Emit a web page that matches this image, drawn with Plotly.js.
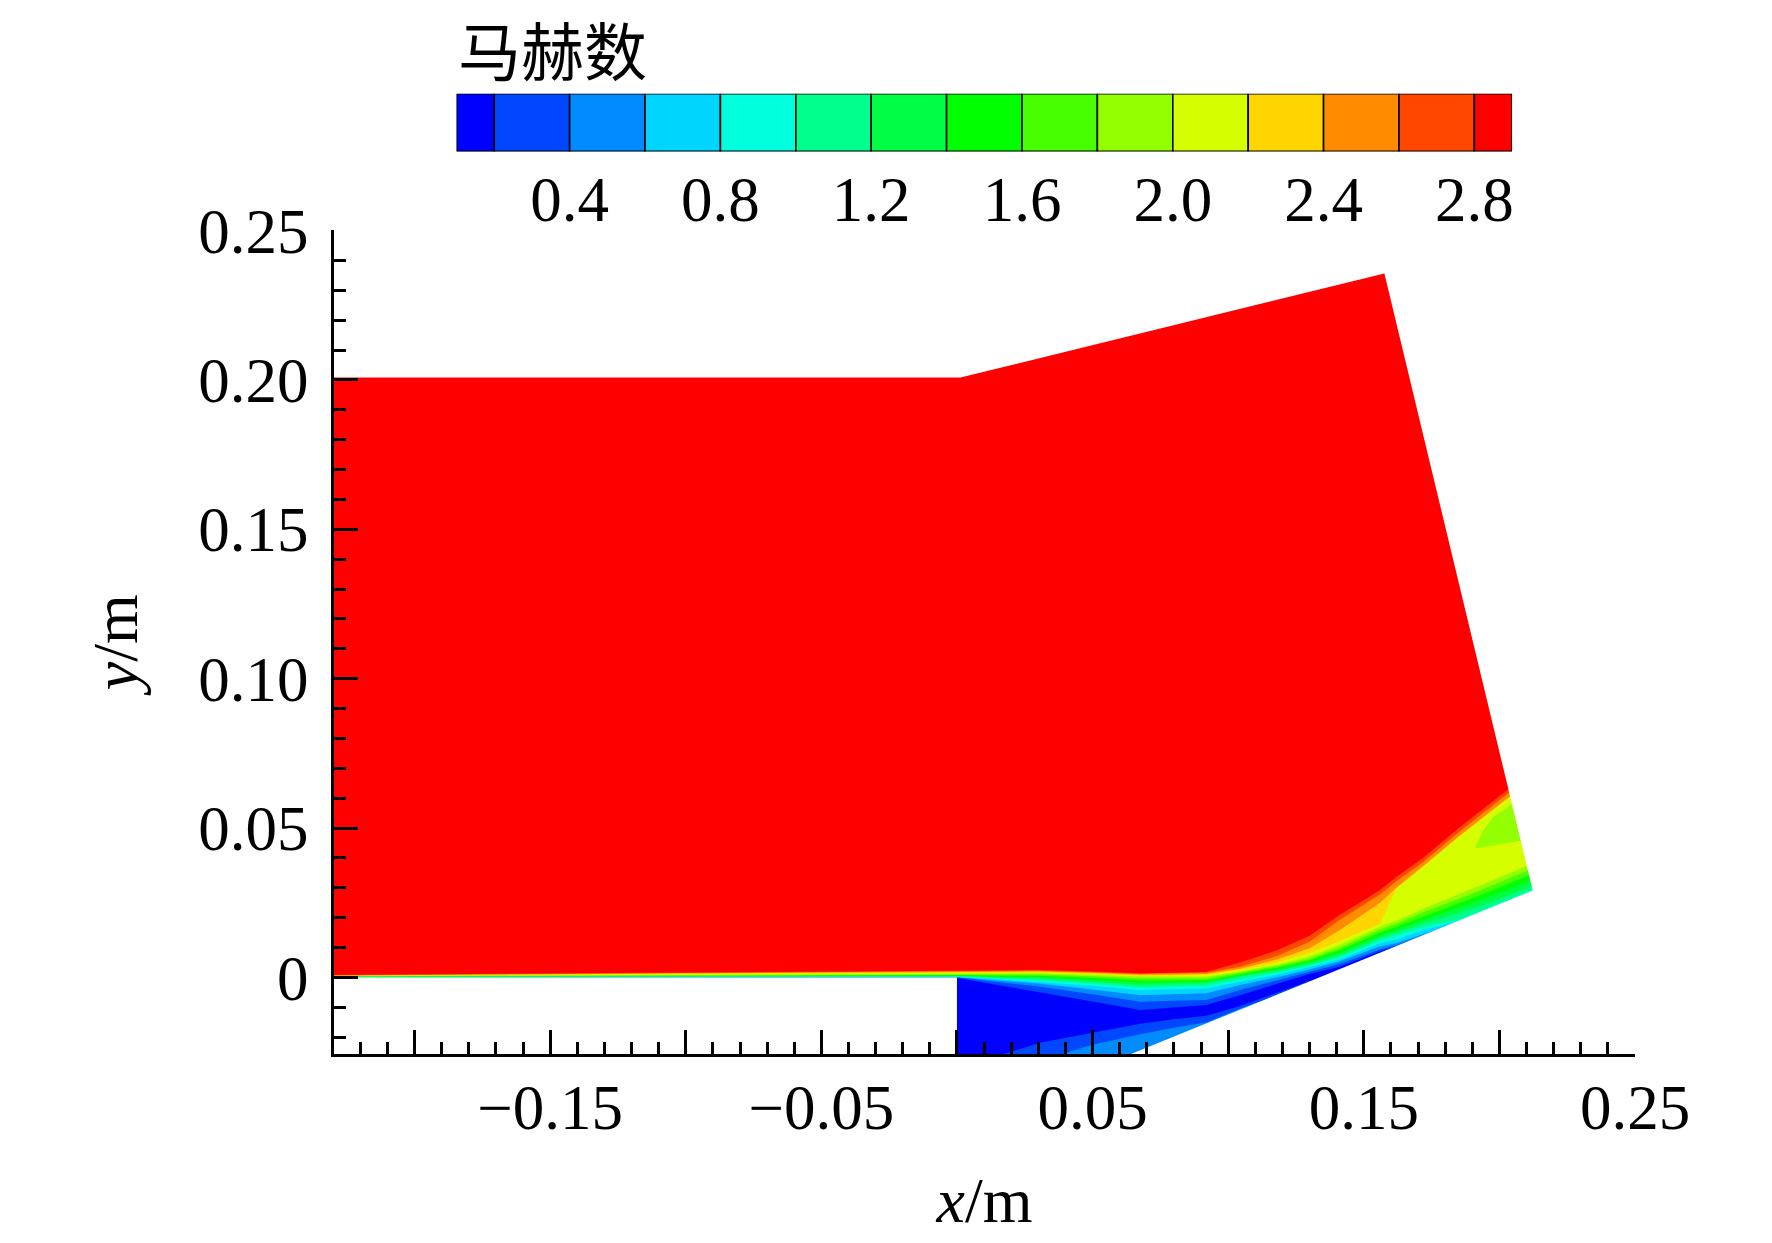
<!DOCTYPE html>
<html>
<head>
<meta charset="utf-8">
<script src="https://cdn.plot.ly/plotly-3.0.1.min.js"></script>
<style>html,body{margin:0;padding:0;background:#fff;}</style>
</head>
<body>
<div id="chart" style="width:1772px;height:1243px;"></div>
<script>
// ---- Mach number contour bands (Tecplot style legend) ----
const bandColors = ['#0000FF','#0047FF','#008CFF','#00D5FF','#00FFDD','#00FF8C','#00FF44','#00FF00',
                    '#47FF00','#94FF00','#D5FF00','#FFD500','#FF8C00','#FF4700','#FF0000'];
const levels = [0.2,0.4,0.6,0.8,1.0,1.2,1.4,1.6,1.8,2.0,2.2,2.4,2.6,2.8];

// x stations (m) at which the iso-Mach lines were read
const stationX = [-0.24,-0.12,-0.0005,0.0005,0.015,0.03,0.05,0.0675,0.08,0.092,0.1044,0.118,0.13,0.1412,0.156,0.162,0.1718,0.185,0.2,0.215,0.235];

// y (m) of each iso-Mach line at the stations (region above the line has M > level)
const iso02 = [0,0,0,-0.0002,-0.0025,-0.0048,-0.0080,-0.0109,-0.0100,-0.0092,-0.0059,-0.0022,0.0012,0.0036,0.0088,0.0104,0.0136,0.0185,0.0240,0.0295,0.036];
const iso04 = [0,0,0,0.0000,-0.0015,-0.0030,-0.0056,-0.0081,-0.0078,-0.0075,-0.0042,-0.0010,0.0020,0.0045,0.0094,0.0108,0.0138,0.0185,0.0240,0.0295,0.036];
const iso06 = [0,0,0.0001,0.0001,-0.0010,-0.0020,-0.0040,-0.0059,-0.0056,-0.0053,-0.0025,0.0001,0.0027,0.0054,0.0105,0.0115,0.0145,0.0185,0.0240,0.0295,0.036];
const iso08 = [0,0.0001,0.0002,0.0002,-0.0006,-0.0015,-0.0028,-0.0042,-0.0039,-0.0036,-0.0014,0.0009,0.0034,0.0060,0.0115,0.0128,0.0158,0.0188,0.0242,0.0297,0.036];
const iso10 = [0.0001,0.0001,0.0003,0.0003,-0.0003,-0.0009,-0.0021,-0.0034,-0.0031,-0.0028,-0.0005,0.0016,0.0040,0.0068,0.0124,0.0140,0.0168,0.0193,0.0248,0.0303,0.037];
const iso12 = [0.0001,0.0002,0.0004,0.0004,0.0000,-0.0003,-0.0014,-0.0025,-0.0022,-0.0019,0.0003,0.0023,0.0045,0.0075,0.0132,0.0150,0.0180,0.0215,0.0262,0.0315,0.038];
const iso14 = [0.0002,0.0004,0.0006,0.0006,0.0003,0.0002,-0.0008,-0.0017,-0.0016,-0.0014,0.0007,0.0028,0.0051,0.0083,0.0141,0.0160,0.0192,0.0232,0.0282,0.0338,0.040];
const iso16 = [0.0003,0.0006,0.0008,0.0008,0.0006,0.0006,-0.0002,-0.0010,-0.0010,-0.0009,0.0011,0.0033,0.0057,0.0092,0.0150,0.0170,0.0205,0.0248,0.0300,0.0358,0.042];
const iso18 = [0.0004,0.0007,0.0011,0.0011,0.0009,0.0010,0.0004,-0.0003,-0.0003,-0.0003,0.0016,0.0038,0.0063,0.0100,0.0160,0.0180,0.0218,0.0263,0.0318,0.0376,0.044];
const iso20 = [0.00045,0.0009,0.0014,0.0014,0.0013,0.0014,0.0009,0.0003,0.0003,0.0003,0.0020,0.0042,0.0070,0.0109,0.0170,0.0190,0.0230,0.0278,0.0335,0.0392,0.046];
const iso22 = [0.00055,0.0011,0.0017,0.0017,0.0016,0.0017,0.0012,0.0006,0.0007,0.0008,0.0024,0.0050,0.0082,0.0122,0.0180,0.0297,0.0369,0.0469,0.0576,0.0682,0.0822];
const iso24 = [0.00065,0.0013,0.0020,0.0020,0.0019,0.0020,0.0015,0.0009,0.0010,0.0012,0.0029,0.0060,0.0098,0.0159,0.0250,0.0300,0.0372,0.0472,0.0579,0.0685,0.0825];
const iso26 = [0.0007,0.0014,0.0023,0.0023,0.0022,0.0023,0.0018,0.0012,0.0014,0.0016,0.0036,0.0072,0.0120,0.0193,0.0278,0.0322,0.0386,0.0486,0.0593,0.0699,0.0840];
const iso28 = [0.0008,0.0016,0.0025,0.0025,0.0025,0.0025,0.0020,0.0014,0.0016,0.0019,0.0050,0.0091,0.0140,0.0210,0.0293,0.0336,0.0400,0.0500,0.0607,0.0713,0.0855];
const isolines = [iso02,iso04,iso06,iso08,iso10,iso12,iso14,iso16,iso18,iso20,iso22,iso24,iso26,iso28];

// faster strips along the lower ramp wall below the recirculation core
const strip02X = [0.010,0.0195,0.0306,0.05,0.0675,0.08,0.092,0.1044,0.118,0.13];
const strip02Y = [-0.0275,-0.0250,-0.0218,-0.0185,-0.0155,-0.0140,-0.0128,-0.0095,-0.0050,-0.0012];
const strip04X = [0.034,0.0417,0.05,0.0675,0.08,0.092,0.1044,0.115];
const strip04Y = [-0.0275,-0.0248,-0.0225,-0.0190,-0.0168,-0.0150,-0.0104,-0.0070];

// M 1.8-2.0 pocket near the outlet
const pocketX = [0.2080,0.1978,0.1941,0.1910,0.1978,0.2110];
const pocketY = [0.0600,0.0538,0.0494,0.0432,0.0443,0.0462];

// extent of the painted field and the flow-domain outline (white outside)
const extentX = [-0.24,0.235];
const extentY = [-0.06,0.245];
const maskTopX = [-0.3,0.0013,0.1576,0.3,0.3,-0.3];
const maskTopY = [0.2008,0.2008,0.2356,0.2356,0.4,0.4];
const maskRightX = [0.1576,0.3,0.3,0.2123,0.2123,0.1576];
const maskRightY = [0.4,0.4,-0.1,-0.1,0.0291,0.2356];
const maskWallX = [0,0.2123,0.3,0.3,0];
const maskWallY = [-0.0493,0.0291,0.0291,-0.1,-0.1];
const maskPlateX = [-0.3,0,0,-0.3];
const maskPlateY = [0,0,-0.1,-0.1];

// colour bar
const cbEdges = [0.1,0.2,0.4,0.6,0.8,1.0,1.2,1.4,1.6,1.8,2.0,2.2,2.4,2.6,2.8,2.9];
const cbTickVals = [0.4,0.8,1.2,1.6,2.0,2.4,2.8];
const cbTickText = ['0.4','0.8','1.2','1.6','2.0','2.4','2.8'];

// axes
const xRange = [-0.2297,0.25];
const yRange = [-0.0256,0.25];
const xTickVals = [-0.20,-0.15,-0.10,-0.05,0,0.05,0.10,0.15,0.20,0.25];
const xTickText = ['','\u22120.15','','\u22120.05','','0.05','','0.15','','0.25'];
const yTickVals = [0,0.05,0.10,0.15,0.20,0.25];
const yTickText = ['0','0.05','0.10','0.15','0.20','0.25'];

function poly(x, y, color) {
  return {type:'scatter', x:x, y:y, mode:'lines', fill:'toself', fillcolor:color,
          line:{width:0,color:color}, hoverinfo:'skip', showlegend:false, xaxis:'x', yaxis:'y'};
}

const traces = [];
traces.push(poly([extentX[0],extentX[1],extentX[1],extentX[0]],[extentY[0],extentY[0],extentY[1],extentY[1]], bandColors[0]));
isolines.forEach(function(iso, i){
  const k = i + 1;
  traces.push(poly(stationX.concat([extentX[1],extentX[0]]), iso.concat([extentY[1],extentY[1]]), bandColors[k]));
  if (k === 1) traces.push(poly(strip02X.concat([strip02X[strip02X.length-1], strip02X[0]]), strip02Y.concat([extentY[0],extentY[0]]), bandColors[1]));
  if (k === 2) traces.push(poly(strip04X.concat([strip04X[strip04X.length-1], strip04X[0]]), strip04Y.concat([extentY[0],extentY[0]]), bandColors[2]));
  if (k === 10) traces.push(poly(pocketX, pocketY, bandColors[9]));
});
[[maskTopX,maskTopY],[maskRightX,maskRightY],[maskWallX,maskWallY],[maskPlateX,maskPlateY]].forEach(function(m){
  traces.push(poly(m[0], m[1], '#FFFFFF'));
});

// colour bar as bars on a second axis pair
const cbCenters = [], cbWidths = [], cbOnes = [];
for (let i = 0; i < cbEdges.length - 1; i++) {
  cbCenters.push((cbEdges[i] + cbEdges[i+1]) / 2);
  cbWidths.push(cbEdges[i+1] - cbEdges[i]);
  cbOnes.push(1);
}
traces.push({type:'bar', x:cbCenters, y:cbOnes, width:cbWidths, base:0, xaxis:'x2', yaxis:'y2',
  marker:{color:bandColors, line:{color:'#000', width:1.6}}, cliponaxis:false, hoverinfo:'skip', showlegend:false});

const serif = 'Liberation Serif, Times New Roman, serif';
const axisCommon = {
  tickmode:'array', ticks:'inside', ticklen:24, tickwidth:3, tickcolor:'#000',
  showline:true, linewidth:3, linecolor:'#000', showgrid:false, zeroline:false,
  tickfont:{family:serif, size:63, color:'#000'},
  minor:{ticks:'inside', ticklen:12, tickwidth:3, tickcolor:'#000', tick0:0, dtick:0.01, showgrid:false}
};

const layout = {
  width:1772, height:1243,
  margin:{l:334, r:137, t:0, b:189, pad:0},
  paper_bgcolor:'#FFFFFF', plot_bgcolor:'#FFFFFF',
  showlegend:false, hovermode:false,
  font:{family:serif, color:'#000', size:63},
  xaxis:Object.assign({}, axisCommon, {
    domain:[0,1], anchor:'y', range:xRange, tickvals:xTickVals, ticktext:xTickText,
    ticklabelstandoff:-4,
    title:{text:'<i>x</i>/m', font:{family:serif, size:64, color:'#000'}, standoff:36}
  }),
  yaxis:Object.assign({}, axisCommon, {
    domain:[0,0.78131], anchor:'x', range:yRange, tickvals:yTickVals, ticktext:yTickText,
    ticklabelstandoff:10,
    title:{text:'<i>y</i>/m', font:{family:serif, size:64, color:'#000'}, standoff:40}
  }),
  xaxis2:{domain:[0.0942,0.9055], anchor:'y2', range:[cbEdges[0], cbEdges[cbEdges.length-1]],
    tickmode:'array', tickvals:cbTickVals, ticktext:cbTickText, ticks:'', showline:false,
    showgrid:false, zeroline:false, fixedrange:true, ticklabelstandoff:6,
    tickfont:{family:serif, size:63, color:'#000'}},
  yaxis2:{domain:[0.85636,0.91101], anchor:'x2', range:[0,1], visible:false, fixedrange:true},
  annotations:[{text:'马赫数', xref:'paper', yref:'paper', x:0.0935, y:1.0, xanchor:'left', yanchor:'top',
    showarrow:false, font:{family:'Noto Sans CJK SC', size:63, color:'#000'}}]
};

Plotly.newPlot('chart', traces, layout, {displayModeBar:false, staticPlot:true});
</script>
</body>
</html>
